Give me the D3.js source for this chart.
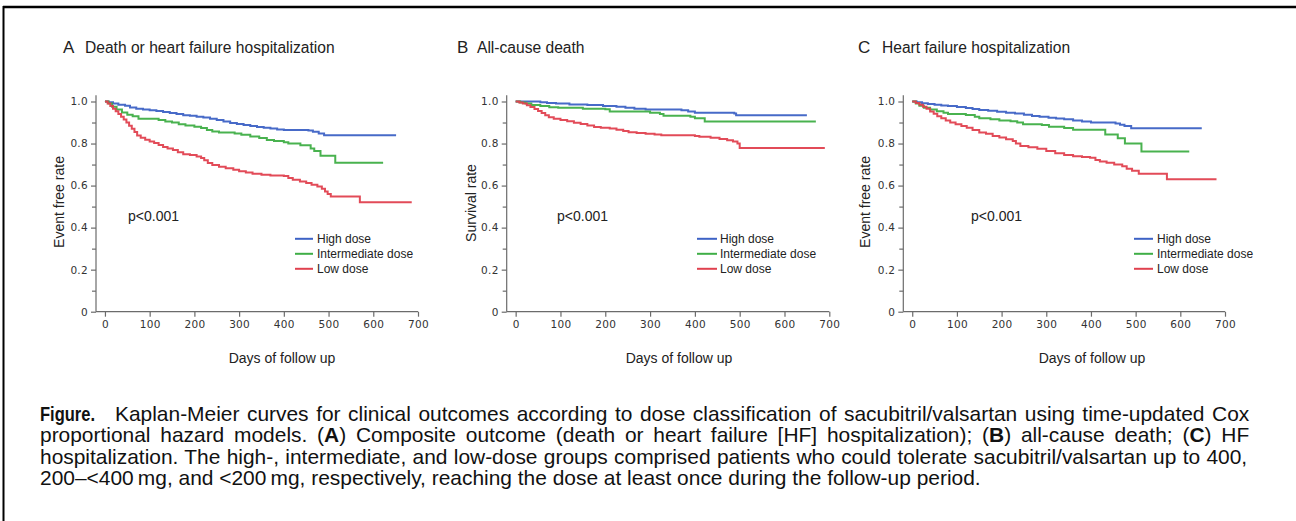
<!DOCTYPE html>
<html><head><meta charset="utf-8">
<script src="https://cdn.jsdelivr.net/npm/d3@7"></script>
<style>
body{margin:0;background:#fff;}
svg{display:block;font-family:"Liberation Sans",Arial,sans-serif;}
</style>
</head><body><svg id="c" width="1296" height="521"></svg>
<script>
// ---------- data ----------
const seriesNames = ["High dose", "Intermediate dose", "Low dose"];
const seriesColors = ["#3d62c5", "#3fae46", "#e0414f"];
const panelLetters = ["A", "B", "C"];
const panelTitles = ["Death or heart failure hospitalization", "All-cause death", "Heart failure hospitalization"];
const yTitles = ["Event free rate", "Survival rate", "Event free rate"];
const xTitle = "Days of follow up";
const pText = "p<0.001";
const xTicks = [0, 100, 200, 300, 400, 500, 600, 700];
const yTicks = [0, 0.2, 0.4, 0.6, 0.8, 1.0];
const yMinorTicks = [0.1, 0.3, 0.5, 0.7, 0.9];

// Panel A: death or HF hospitalization  [day, event-free rate]
const aHigh = [[0,1],[8,0.996],[18,0.99],[30,0.985],[45,0.98],[56,0.972],[70,0.966],[85,0.962],[100,0.958],[115,0.955],[130,0.95],[145,0.945],[160,0.94],[175,0.935],[190,0.932],[205,0.928],[220,0.924],[235,0.918],[250,0.912],[265,0.905],[280,0.898],[295,0.893],[310,0.888],[325,0.884],[340,0.879],[355,0.875],[370,0.871],[385,0.867],[400,0.865],[455,0.862],[465,0.856],[478,0.848],[490,0.839],[651,0.839]];
const aInt = [[0,1],[8,0.99],[16,0.975],[26,0.962],[38,0.948],[50,0.937],[62,0.93],[75,0.918],[120,0.912],[135,0.905],[150,0.9],[165,0.892],[180,0.886],[200,0.88],[215,0.874],[228,0.865],[240,0.857],[255,0.853],[290,0.848],[305,0.842],[325,0.834],[345,0.826],[362,0.817],[378,0.812],[400,0.806],[410,0.8],[437,0.792],[460,0.777],[468,0.765],[482,0.742],[515,0.709],[622,0.709]];
const aLow = [[0,1],[6,0.99],[12,0.978],[18,0.966],[24,0.954],[30,0.94],[36,0.928],[42,0.914],[48,0.9],[54,0.885],[60,0.87],[66,0.855],[72,0.838],[80,0.828],[90,0.818],[100,0.81],[110,0.803],[120,0.793],[130,0.784],[140,0.777],[152,0.769],[163,0.758],[175,0.749],[190,0.745],[205,0.738],[215,0.731],[222,0.72],[230,0.708],[240,0.698],[255,0.69],[270,0.682],[287,0.675],[300,0.668],[315,0.662],[330,0.656],[350,0.652],[370,0.648],[400,0.645],[410,0.636],[420,0.628],[436,0.62],[450,0.612],[462,0.604],[475,0.596],[485,0.585],[492,0.572],[498,0.56],[505,0.548],[568,0.548],[570,0.521],[686,0.521]];

// Panel B: all-cause death  [day, survival rate]
const bHigh = [[0,1],[55,0.997],[70,0.993],[90,0.99],[120,0.986],[160,0.983],[195,0.979],[225,0.975],[245,0.97],[265,0.966],[290,0.962],[370,0.958],[385,0.953],[400,0.947],[488,0.943],[492,0.935],[650,0.935]];
const bInt = [[0,1],[10,0.995],[22,0.99],[35,0.983],[55,0.978],[75,0.973],[95,0.97],[150,0.966],[200,0.963],[210,0.952],[300,0.947],[322,0.94],[330,0.932],[390,0.927],[400,0.92],[422,0.905],[670,0.905]];
const bLow = [[0,1],[8,0.995],[16,0.99],[25,0.982],[33,0.974],[42,0.964],[50,0.955],[58,0.945],[66,0.934],[74,0.925],[85,0.918],[100,0.912],[115,0.906],[130,0.899],[145,0.893],[160,0.886],[175,0.879],[190,0.875],[210,0.871],[225,0.866],[240,0.86],[252,0.854],[270,0.85],[290,0.847],[310,0.843],[325,0.84],[400,0.836],[410,0.832],[435,0.827],[455,0.822],[472,0.816],[485,0.81],[495,0.8],[500,0.779],[690,0.779]];

// Panel C: HF hospitalization  [day, event-free rate]
const cHigh = [[0,1],[10,0.996],[22,0.992],[35,0.988],[50,0.984],[65,0.981],[80,0.978],[100,0.974],[120,0.969],[135,0.964],[150,0.96],[170,0.956],[190,0.951],[210,0.947],[230,0.943],[250,0.937],[268,0.931],[285,0.927],[305,0.923],[322,0.919],[340,0.915],[360,0.91],[380,0.905],[400,0.9],[455,0.895],[465,0.889],[475,0.883],[490,0.873],[648,0.873]];
const cInt = [[0,1],[8,0.99],[16,0.98],[26,0.97],[40,0.962],[55,0.954],[70,0.946],[80,0.94],[120,0.936],[140,0.928],[150,0.92],[175,0.915],[195,0.91],[220,0.906],[235,0.9],[248,0.892],[290,0.888],[306,0.88],[340,0.874],[360,0.866],[432,0.843],[460,0.825],[476,0.8],[513,0.762],[620,0.762]];
const cLow = [[0,1],[8,0.993],[16,0.985],[24,0.975],[32,0.965],[40,0.953],[48,0.942],[56,0.93],[65,0.92],[75,0.91],[85,0.9],[97,0.892],[110,0.884],[122,0.875],[135,0.864],[150,0.853],[165,0.846],[180,0.836],[195,0.829],[210,0.82],[225,0.812],[232,0.8],[242,0.788],[260,0.782],[280,0.775],[300,0.764],[320,0.754],[340,0.746],[360,0.74],[380,0.736],[398,0.732],[410,0.722],[420,0.715],[435,0.709],[452,0.7],[470,0.692],[480,0.68],[492,0.671],[507,0.656],[568,0.656],[570,0.63],[681,0.63]];

const panelSeries = [[aHigh, aInt, aLow], [bHigh, bInt, bLow], [cHigh, cInt, cLow]];

const captionLead = "Figure.";
const captionLines = [
  [["Kaplan-Meier curves for clinical outcomes according to dose classification of sacubitril/valsartan using time-updated Cox", false]],
  [["proportional hazard models. (", false], ["A", true], [") Composite outcome (death or heart failure [HF] hospitalization); (", false], ["B", true], [") all-cause death; (", false], ["C", true], [") HF", false]],
  [["hospitalization. The high-, intermediate, and low-dose groups comprised patients who could tolerate sacubitril/valsartan up to 400,", false]],
  [["200\u2013<400\u2009mg, and <200\u2009mg, respectively, reaching the dose at least once during the follow-up period.", false]]
];

// ---------- layout ----------
const W = 1296, H = 521;
const svg = d3.select("#c");
svg.append("rect").attr("width", W).attr("height", H).attr("fill", "#fff");

// frame
svg.append("line").attr("x1", 3).attr("x2", W).attr("y1", 7).attr("y2", 7).attr("stroke", "#000").attr("stroke-width", 2.5);
svg.append("line").attr("x1", 3.5).attr("x2", 3.5).attr("y1", 6).attr("y2", H).attr("stroke", "#000").attr("stroke-width", 2);

const panels = [
  {axisX: 96,    right: 418,   letterX: 63,  titleX: 85,  yTitleX: 59,  xTitleX: 282,  pX: 128, legLine: [295, 313], legText: 317},
  {axisX: 506.7, right: 829.3, letterX: 457, titleX: 477, yTitleX: 471, xTitleX: 679,  pX: 557, legLine: [697, 717], legText: 720},
  {axisX: 903.3, right: 1225,  letterX: 858, titleX: 882, yTitleX: 865, xTitleX: 1092, pX: 971, legLine: [1134, 1153], legText: 1157}
];
const yBottom = 311.7, yOnePx = 101.5;
const axisColor = "#6b6b6b";
const tickTextColor = "#333";

panels.forEach((p, i) => {
  const g = svg.append("g");
  const x = d3.scaleLinear().domain([-20, 700]).range([p.axisX, p.right]);
  const y = d3.scaleLinear().domain([0, 1]).range([yBottom, yOnePx]);
  const yTop = y(1.03);

  // axes
  const xAxis = g.append("g").attr("transform", `translate(0,${yBottom})`)
    .call(d3.axisBottom(x).tickValues(xTicks).tickSize(5).tickSizeOuter(0).tickFormat(d3.format("d")));
  xAxis.select(".domain").remove();
  xAxis.append("line").attr("x1", p.axisX).attr("x2", p.right).attr("stroke", axisColor).attr("stroke-width", 1.2);
  xAxis.selectAll(".tick line").attr("stroke", axisColor).attr("stroke-width", 1.2);
  xAxis.selectAll(".tick text").attr("fill", tickTextColor).attr("font-size", 10.5).attr("y", 9)
    .attr("font-family", "'DejaVu Sans', sans-serif").attr("letter-spacing", 0.3);

  const yAxis = g.append("g").attr("transform", `translate(${p.axisX},0)`)
    .call(d3.axisLeft(y).tickValues(yTicks).tickSize(5).tickSizeOuter(0).tickFormat(d => d === 0 ? "0" : d3.format(".1f")(d)));
  yAxis.select(".domain").remove();
  yAxis.append("line").attr("y1", yTop).attr("y2", yBottom).attr("stroke", axisColor).attr("stroke-width", 1.2);
  yAxis.selectAll(".tick line").attr("stroke", axisColor).attr("stroke-width", 1.2);
  yAxis.selectAll(".tick text").attr("fill", tickTextColor).attr("font-size", 10.5).attr("x", -8)
    .attr("font-family", "'DejaVu Sans', sans-serif").attr("letter-spacing", 0.3);
  const yMinor = g.append("g").attr("transform", `translate(${p.axisX},0)`)
    .call(d3.axisLeft(y).tickValues(yMinorTicks).tickSize(4).tickSizeOuter(0).tickFormat(""));
  yMinor.select(".domain").remove();
  yMinor.selectAll(".tick line").attr("stroke", axisColor).attr("stroke-width", 1.2);

  // curves
  const line = d3.line().x(d => x(d[0])).y(d => y(d[1])).curve(d3.curveStepAfter);
  panelSeries[i].forEach((s, k) => {
    g.append("path").datum(s).attr("d", line).attr("fill", "none")
      .attr("stroke", seriesColors[k]).attr("stroke-width", 2).attr("stroke-opacity", 0.95);
  });

  // titles
  g.append("text").attr("x", p.letterX).attr("y", 53).attr("font-size", 17).attr("fill", "#222").text(panelLetters[i]);
  g.append("text").attr("x", p.titleX).attr("y", 53).attr("font-size", 15.6).attr("fill", "#222").text(panelTitles[i]);
  g.append("text").attr("transform", `translate(${p.yTitleX},${i === 1 ? 203 : 202}) rotate(-90)`)
    .attr("text-anchor", "middle").attr("dy", "0.35em").attr("font-size", 14).attr("fill", "#222").text(yTitles[i]);
  g.append("text").attr("x", p.xTitleX).attr("y", 363).attr("text-anchor", "middle")
    .attr("font-size", 14).attr("fill", "#222").text(xTitle);
  g.append("text").attr("x", p.pX).attr("y", 221).attr("font-size", 14).attr("fill", "#222").text(pText);

  // legend
  const legY = [238.8, 253.8, 268.8];
  seriesNames.forEach((nm, k) => {
    g.append("line").attr("x1", p.legLine[0]).attr("x2", p.legLine[1]).attr("y1", legY[k]).attr("y2", legY[k])
      .attr("stroke", seriesColors[k]).attr("stroke-width", 2);
    g.append("text").attr("x", p.legText).attr("y", legY[k]).attr("dy", "0.36em")
      .attr("font-size", 12).attr("fill", "#222").text(nm);
  });
});

// caption: condensed look via horizontal scale, justified lines via word spacing
const capFont = 20.5;
const leadT = svg.append("text").attr("font-size", capFont).attr("font-weight", "bold").attr("fill", "#111").text(captionLead);
const leadNat = leadT.node().getComputedTextLength();
leadT.attr("transform", `translate(40,420.5) scale(${55 / leadNat},1)`);

const capStart = [115, 40, 40, 40];
const capEnd = [1250, 1250, 1248, null];
const capBase = [420.5, 442, 463.5, 485];
const capTexts = captionLines.map((parts, li) => {
  const t = svg.append("text").attr("font-size", capFont).attr("fill", "#111");
  parts.forEach(([s, b]) => t.append("tspan").attr("font-weight", b ? "bold" : "normal").text(s));
  return t;
});
const nat0 = capTexts[0].node().getComputedTextLength();
const sc = 0.98 * (capEnd[0] - capStart[0]) / nat0;
capTexts.forEach((t, li) => {
  if (li < 3) {
    const nat = t.node().getComputedTextLength();
    const nSp = (t.text().match(/ /g) || []).length;
    const target = capEnd[li] - capStart[li];
    t.attr("word-spacing", (target / sc - nat) / nSp);
  }
  t.attr("transform", `translate(${capStart[li]},${capBase[li]}) scale(${sc},1)`);
});
</script>
</body></html>
